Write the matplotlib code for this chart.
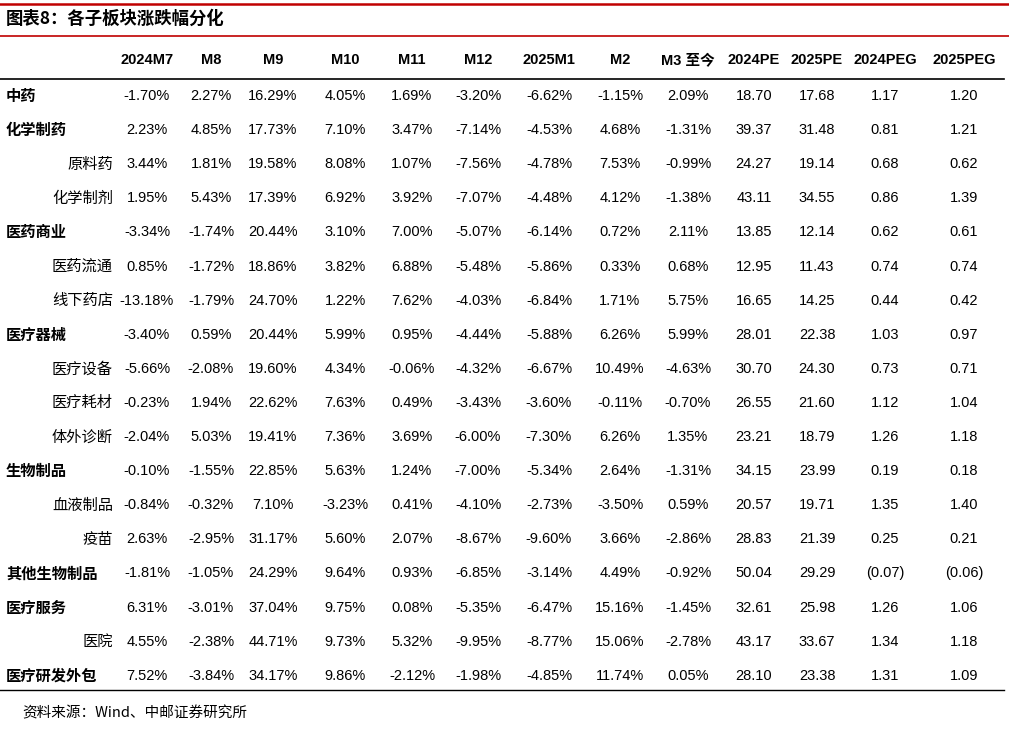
import matplotlib
matplotlib.use("Agg")
import matplotlib.pyplot as plt
from matplotlib.lines import Line2D

W, H = 1009, 735
title = "图表8：各子板块涨跌幅分化"
source = "资料来源：Wind、中邮证券研究所"
headers = ["2024M7", "M8", "M9", "M10", "M11", "M12", "2025M1", "M2", "M3 至今",
           "2024PE", "2025PE", "2024PEG", "2025PEG"]
categories = ["中药", "化学制药", "原料药", "化学制剂", "医药商业", "医药流通", "线下药店",
              "医疗器械", "医疗设备", "医疗耗材", "体外诊断", "生物制品", "血液制品", "疫苗",
              "其他生物制品", "医疗服务", "医院", "医疗研发外包"]
is_sub = [False, False, True, True, False, True, True, False, True, True, True,
          False, True, True, False, False, True, False]
rows = [
    ["-1.70%", "2.27%", "16.29%", "4.05%", "1.69%", "-3.20%", "-6.62%", "-1.15%", "2.09%", "18.70", "17.68", "1.17", "1.20"],
    ["2.23%", "4.85%", "17.73%", "7.10%", "3.47%", "-7.14%", "-4.53%", "4.68%", "-1.31%", "39.37", "31.48", "0.81", "1.21"],
    ["3.44%", "1.81%", "19.58%", "8.08%", "1.07%", "-7.56%", "-4.78%", "7.53%", "-0.99%", "24.27", "19.14", "0.68", "0.62"],
    ["1.95%", "5.43%", "17.39%", "6.92%", "3.92%", "-7.07%", "-4.48%", "4.12%", "-1.38%", "43.11", "34.55", "0.86", "1.39"],
    ["-3.34%", "-1.74%", "20.44%", "3.10%", "7.00%", "-5.07%", "-6.14%", "0.72%", "2.11%", "13.85", "12.14", "0.62", "0.61"],
    ["0.85%", "-1.72%", "18.86%", "3.82%", "6.88%", "-5.48%", "-5.86%", "0.33%", "0.68%", "12.95", "11.43", "0.74", "0.74"],
    ["-13.18%", "-1.79%", "24.70%", "1.22%", "7.62%", "-4.03%", "-6.84%", "1.71%", "5.75%", "16.65", "14.25", "0.44", "0.42"],
    ["-3.40%", "0.59%", "20.44%", "5.99%", "0.95%", "-4.44%", "-5.88%", "6.26%", "5.99%", "28.01", "22.38", "1.03", "0.97"],
    ["-5.66%", "-2.08%", "19.60%", "4.34%", "-0.06%", "-4.32%", "-6.67%", "10.49%", "-4.63%", "30.70", "24.30", "0.73", "0.71"],
    ["-0.23%", "1.94%", "22.62%", "7.63%", "0.49%", "-3.43%", "-3.60%", "-0.11%", "-0.70%", "26.55", "21.60", "1.12", "1.04"],
    ["-2.04%", "5.03%", "19.41%", "7.36%", "3.69%", "-6.00%", "-7.30%", "6.26%", "1.35%", "23.21", "18.79", "1.26", "1.18"],
    ["-0.10%", "-1.55%", "22.85%", "5.63%", "1.24%", "-7.00%", "-5.34%", "2.64%", "-1.31%", "34.15", "23.99", "0.19", "0.18"],
    ["-0.84%", "-0.32%", "7.10%", "-3.23%", "0.41%", "-4.10%", "-2.73%", "-3.50%", "0.59%", "20.57", "19.71", "1.35", "1.40"],
    ["2.63%", "-2.95%", "31.17%", "5.60%", "2.07%", "-8.67%", "-9.60%", "3.66%", "-2.86%", "28.83", "21.39", "0.25", "0.21"],
    ["-1.81%", "-1.05%", "24.29%", "9.64%", "0.93%", "-6.85%", "-3.14%", "4.49%", "-0.92%", "50.04", "29.29", "(0.07)", "(0.06)"],
    ["6.31%", "-3.01%", "37.04%", "9.75%", "0.08%", "-5.35%", "-6.47%", "15.16%", "-1.45%", "32.61", "25.98", "1.26", "1.06"],
    ["4.55%", "-2.38%", "44.71%", "9.73%", "5.32%", "-9.95%", "-8.77%", "15.06%", "-2.78%", "43.17", "33.67", "1.34", "1.18"],
    ["7.52%", "-3.84%", "34.17%", "9.86%", "-2.12%", "-1.98%", "-4.85%", "11.74%", "0.05%", "28.10", "23.38", "1.31", "1.09"],
]

col_x = [147, 211, 273, 345, 412, 478, 549, 620, 688, 754, 817, 885, 964]
CJK = "Noto Sans CJK SC"
NUM = "Liberation Sans"

fig = plt.figure(figsize=(W / 100, H / 100), dpi=100)
ax = fig.add_axes([0, 0, 1, 1])
ax.set_xlim(0, W)
ax.set_ylim(H, 0)
ax.axis("off")

ax.add_line(Line2D([0, W], [4, 4], color="#c00000", lw=1.8))
ax.text(6, 19, title, fontfamily=CJK, fontsize=12.5, fontweight="bold", va="center", ha="left")
ax.add_line(Line2D([0, W], [36, 36], color="#c00000", lw=1.2))

hy = 60
for x, h in zip(col_x, headers):
    ax.text(x, hy, h, fontfamily=[NUM, CJK], fontsize=10.5, fontweight="bold", ha="center", va="center")
ax.add_line(Line2D([0, W - 5], [79, 79], color="black", lw=1.2))

y0, dy = 96, 34.1
for i, (cat, sub, vals) in enumerate(zip(categories, is_sub, rows)):
    y = y0 + i * dy
    if sub:
        ax.text(113, y, cat, fontfamily=CJK, fontsize=11, ha="right", va="center")
    else:
        ax.text(6, y, cat, fontfamily=CJK, fontsize=11, fontweight="bold", ha="left", va="center")
    for x, v in zip(col_x, vals):
        ax.text(x, y, v, fontfamily=NUM, fontsize=10.5, ha="center", va="center")

ax.add_line(Line2D([0, W - 5], [690, 690], color="black", lw=1.0))
ax.text(22, 713, source, fontfamily=CJK, fontsize=10.5, ha="left", va="center")

fig.savefig("out.png", dpi=100)
